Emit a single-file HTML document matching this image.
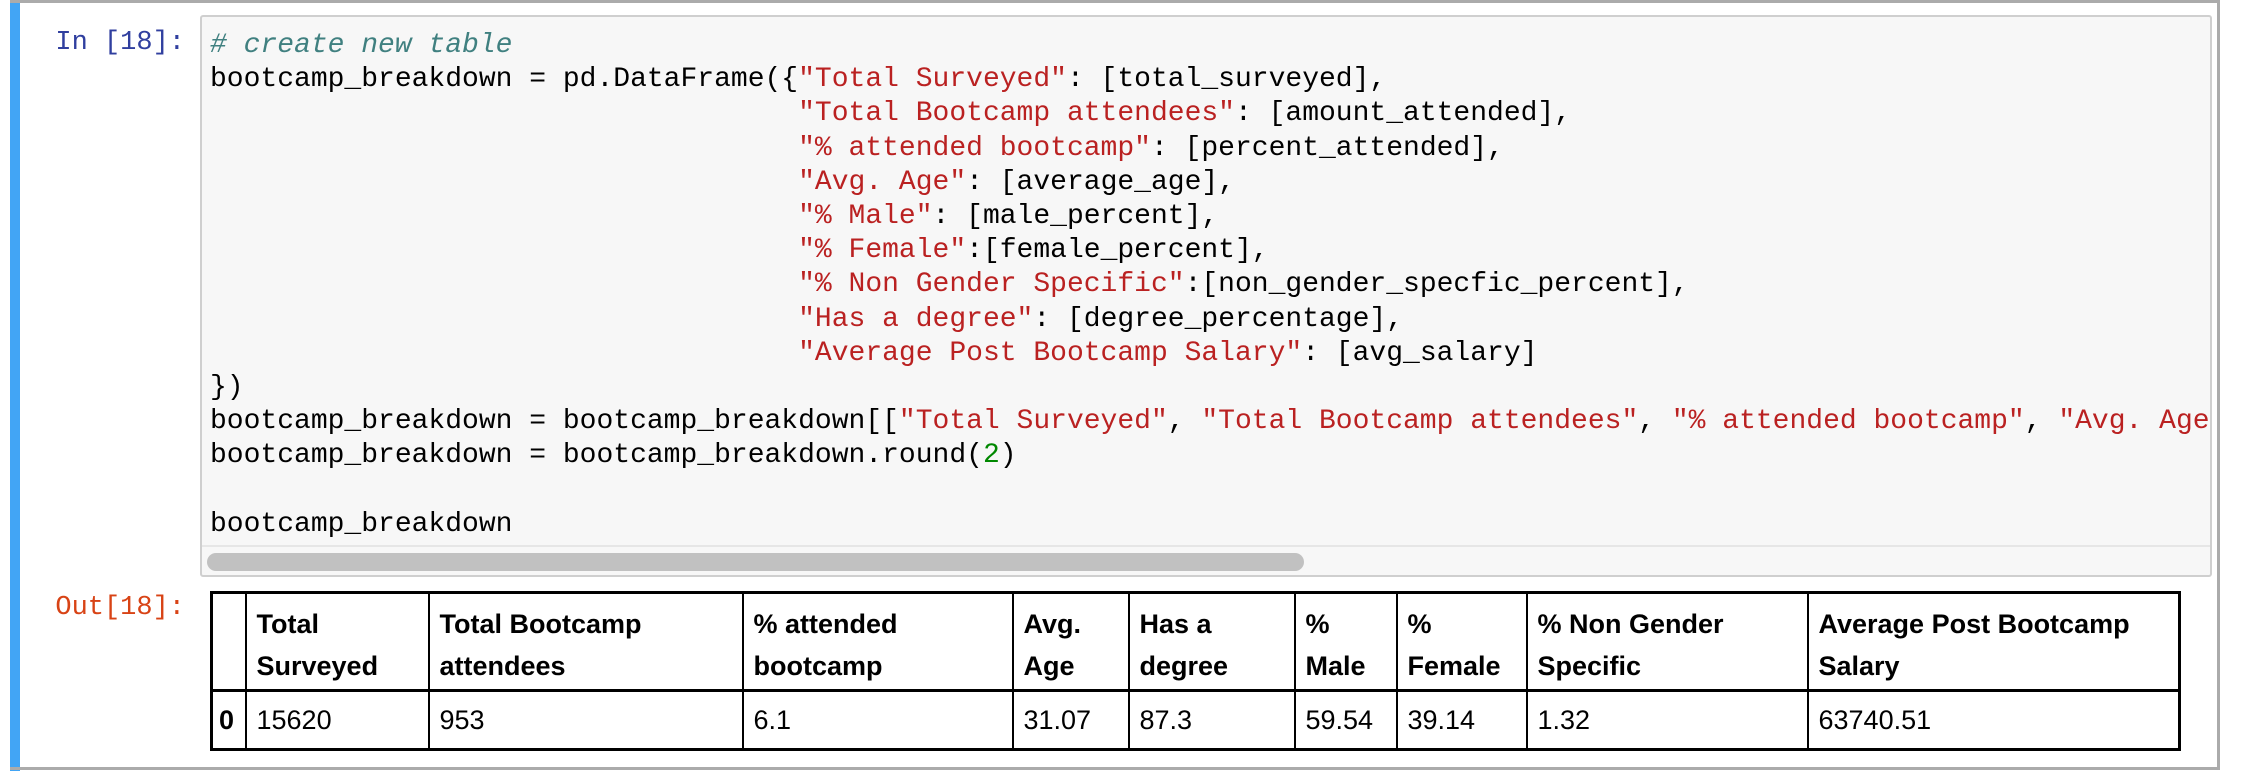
<!DOCTYPE html>
<html><head><meta charset="utf-8"><style>
body{margin:0;width:2242px;height:778px;background:#fff;position:relative;overflow:hidden;font-family:"Liberation Sans",sans-serif}
.cell{position:absolute;left:10px;top:0;width:2210px;height:770px;border-top:3px solid #ababab;border-right:3px solid #ababab;border-bottom:3px solid #ababab;box-sizing:border-box}
.bar{position:absolute;left:10px;top:0;width:10px;height:771px;background:#42a5f5}
.prompt{position:absolute;left:40px;width:145px;text-align:right;font-family:"Liberation Mono",monospace;font-size:27px;line-height:34px}
.input{position:absolute;left:200px;top:15px;width:2012px;height:562px;background:#f7f7f7;border:2px solid #cfcfcf;box-sizing:border-box;border-radius:3px;overflow:hidden}
.code{position:absolute;left:8px;top:12px;font-family:"Liberation Mono",monospace;font-size:28px;line-height:34.2px;white-space:pre;color:#000}
.c{color:#408080;font-style:italic}.s{color:#ba2121}.n{color:#080}
.sb{position:absolute;left:5px;top:536px;width:1097px;height:18px;border-radius:9px;background:#c1c1c1}
.sep{position:absolute;left:0;top:528px;width:100%;height:2px;background:#e6e6e6}
table{position:absolute;left:210px;top:591px;border-collapse:collapse;font-size:27px;table-layout:fixed;border:3px solid #000}
th,td{border:2px solid #000;padding:0 10px;text-align:left;vertical-align:top;box-sizing:border-box}
th{height:98px;line-height:42px;padding-top:9px;font-weight:bold}
thead tr{border-bottom:3px solid #000}
td{height:58px;line-height:56px}
td.i{font-weight:bold;padding:0 6px}
</style></head><body>
<div class="bar"></div>
<div class="cell"></div>
<div class="prompt" style="top:26px;color:#303f9f">In [18]:</div>
<div class="input">
<div class="code"><span class="c"># create new table</span>
bootcamp_breakdown = pd.DataFrame({<span class="s">"Total Surveyed"</span>: [total_surveyed],
                                   <span class="s">"Total Bootcamp attendees"</span>: [amount_attended],
                                   <span class="s">"% attended bootcamp"</span>: [percent_attended],
                                   <span class="s">"Avg. Age"</span>: [average_age],
                                   <span class="s">"% Male"</span>: [male_percent],
                                   <span class="s">"% Female"</span>:[female_percent],
                                   <span class="s">"% Non Gender Specific"</span>:[non_gender_specfic_percent],
                                   <span class="s">"Has a degree"</span>: [degree_percentage],
                                   <span class="s">"Average Post Bootcamp Salary"</span>: [avg_salary]
})
bootcamp_breakdown = bootcamp_breakdown[[<span class="s">"Total Surveyed"</span>, <span class="s">"Total Bootcamp attendees"</span>, <span class="s">"% attended bootcamp"</span>, <span class="s">"Avg. Age"</span>, <span class="s">"Has a degree"</span>]]
bootcamp_breakdown = bootcamp_breakdown.round(<span class="n">2</span>)

bootcamp_breakdown</div>
<div class="sep"></div>
<div class="sb"></div>
</div>
<div class="prompt" style="top:591px;color:#d84315">Out[18]:</div>
<table>
<colgroup><col style="width:34px"><col style="width:183px"><col style="width:314px"><col style="width:270px"><col style="width:116px"><col style="width:166px"><col style="width:102px"><col style="width:130px"><col style="width:281px"><col style="width:372px"></colgroup>
<thead><tr><th></th><th>Total Surveyed</th><th>Total Bootcamp attendees</th><th>% attended bootcamp</th><th>Avg. Age</th><th>Has a degree</th><th>% Male</th><th>% Female</th><th>% Non Gender Specific</th><th>Average Post Bootcamp Salary</th></tr></thead>
<tbody><tr><td class="i">0</td><td>15620</td><td>953</td><td>6.1</td><td>31.07</td><td>87.3</td><td>59.54</td><td>39.14</td><td>1.32</td><td>63740.51</td></tr></tbody>
</table>
</body></html>
